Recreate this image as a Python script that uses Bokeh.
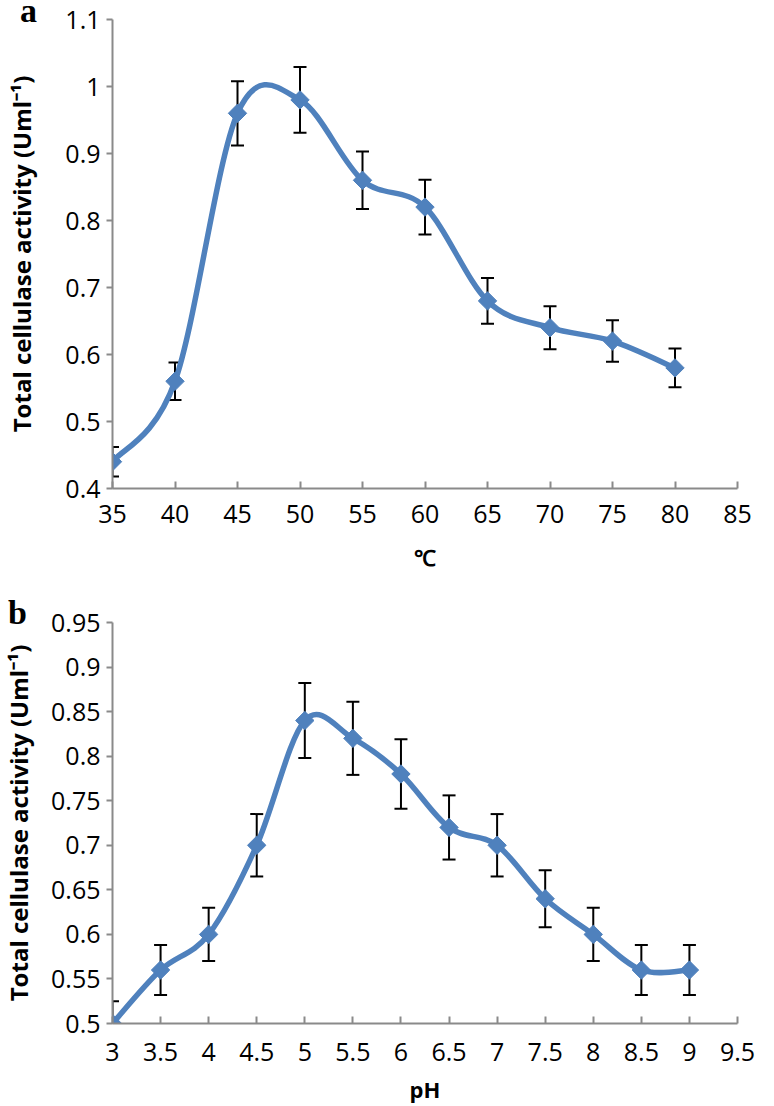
import numpy as np
from bokeh.plotting import figure
from bokeh.layouts import column
from bokeh.models import (ColumnDataSource, Range1d, FixedTicker, Whisker, TeeHead, Div)
from bokeh.embed import file_html
from bokeh.resources import INLINE

# ---------------- data ----------------
temp_c = [35, 40, 45, 50, 55, 60, 65, 70, 75, 80]
temp_activity = [0.44, 0.56, 0.96, 0.98, 0.86, 0.82, 0.68, 0.64, 0.62, 0.58]
temp_err = [0.022, 0.028, 0.048, 0.049, 0.043, 0.041, 0.034, 0.032, 0.031, 0.029]

ph = [3, 3.5, 4, 4.5, 5, 5.5, 6, 6.5, 7, 7.5, 8, 8.5, 9]
ph_activity = [0.50, 0.56, 0.60, 0.70, 0.84, 0.82, 0.78, 0.72, 0.70, 0.64, 0.60, 0.56, 0.56]
ph_err = [0.025, 0.028, 0.030, 0.035, 0.042, 0.041, 0.039, 0.036, 0.035, 0.032, 0.030, 0.028, 0.028]

a_xticks = [35, 40, 45, 50, 55, 60, 65, 70, 75, 80, 85]
a_yticks = [0.4, 0.5, 0.6, 0.7, 0.8, 0.9, 1.0, 1.1]
a_ylabels = ["0.4", "0.5", "0.6", "0.7", "0.8", "0.9", "1", "1.1"]

b_xticks = [3, 3.5, 4, 4.5, 5, 5.5, 6, 6.5, 7, 7.5, 8, 8.5, 9, 9.5]
b_xlabels = ["3", "3.5", "4", "4.5", "5", "5.5", "6", "6.5", "7", "7.5", "8", "8.5", "9", "9.5"]
b_yticks = [0.5, 0.55, 0.6, 0.65, 0.7, 0.75, 0.8, 0.85, 0.9, 0.95]
b_ylabels = ["0.5", "0.55", "0.6", "0.65", "0.7", "0.75", "0.8", "0.85", "0.9", "0.95"]

panel_letters = ["a", "b"]
Y_TITLE = "Total cellulase activity (Uml\u207b\u00b9)"

BLUE = "#4F81BD"
AXIS_GREY = "#8A8A8A"
TICK_FONT = "Open Sans"
SHIFT = 9  # figures are shifted left by this many pixels (negative margin)


def smooth_segments(xs, ys):
    """Catmull-Rom (Excel-like) smoothing -> cubic bezier control points."""
    x = np.asarray(xs, float)
    y = np.asarray(ys, float)
    n = len(x)
    xp = np.concatenate([[x[0]], x, [x[-1]]])
    yp = np.concatenate([[y[0]], y, [y[-1]]])
    d = dict(x0=[], y0=[], x1=[], y1=[], cx0=[], cy0=[], cx1=[], cy1=[])
    for i in range(n - 1):
        j = i + 1
        d["x0"].append(x[i]); d["y0"].append(y[i])
        d["x1"].append(x[i + 1]); d["y1"].append(y[i + 1])
        d["cx0"].append(x[i] + (xp[j + 1] - xp[j - 1]) / 6)
        d["cy0"].append(y[i] + (yp[j + 1] - yp[j - 1]) / 6)
        d["cx1"].append(x[i + 1] - (xp[j + 2] - xp[j]) / 6)
        d["cy1"].append(y[i + 1] - (yp[j + 2] - yp[j]) / 6)
    return d


def make_panel(xs, ys, errs, xr, yr, xticks, xover, yticks, yover, xtitle,
               width, height, bl, br, bt, bb, xlab_standoff, xtitle_standoff, ytitle_standoff):
    p = figure(width=width, height=height, output_backend="svg", toolbar_location=None,
               x_range=Range1d(*xr), y_range=Range1d(*yr),
               min_border_left=bl, min_border_right=br, min_border_top=bt, min_border_bottom=bb)
    p.outline_line_color = None
    p.grid.visible = False
    p.background_fill_color = None
    p.border_fill_color = None

    src = ColumnDataSource(dict(x=xs, y=ys,
                                upper=[v + e for v, e in zip(ys, errs)],
                                lower=[v - e for v, e in zip(ys, errs)]))
    w = Whisker(base="x", upper="upper", lower="lower", source=src,
                line_color="black", line_width=2, level="underlay",
                upper_head=TeeHead(size=13, line_color="black", line_width=2),
                lower_head=TeeHead(size=13, line_color="black", line_width=2))
    p.add_layout(w)

    seg = ColumnDataSource(smooth_segments(xs, ys))
    p.bezier(x0="x0", y0="y0", x1="x1", y1="y1", cx0="cx0", cy0="cy0", cx1="cx1", cy1="cy1",
             source=seg, line_color=BLUE, line_width=5.5, line_cap="round")
    p.scatter("x", "y", source=src, marker="square", angle=np.pi / 4, size=13,
              fill_color=BLUE, line_color=BLUE)

    for ax in (p.xaxis[0], p.yaxis[0]):
        ax.axis_line_color = AXIS_GREY
        ax.axis_line_width = 2
        ax.major_tick_line_color = AXIS_GREY
        ax.major_tick_line_width = 2
        ax.minor_tick_line_color = None
        ax.major_label_text_font = TICK_FONT
        ax.major_label_text_font_size = "25px"
        ax.major_label_text_color = "black"
        ax.axis_label_text_font = "Open Sans"
        ax.axis_label_text_font_style = "bold"
        ax.axis_label_text_color = "black"

    xa = p.xaxis[0]
    xa.ticker = FixedTicker(ticks=xticks)
    xa.major_label_overrides = xover
    xa.major_tick_in = 7
    xa.major_tick_out = 0
    xa.major_label_standoff = xlab_standoff
    xa.axis_label = xtitle
    xa.axis_label_text_font_size = "22px"
    xa.axis_label_standoff = xtitle_standoff

    ya = p.yaxis[0]
    ya.ticker = FixedTicker(ticks=yticks)
    ya.major_label_overrides = yover
    ya.major_tick_in = 0
    ya.major_tick_out = 6
    ya.major_label_standoff = 6
    ya.axis_label = Y_TITLE
    ya.axis_label_text_font_size = "24px"
    ya.axis_label_standoff = ytitle_standoff
    return p


W = 774 + SHIFT
pa = make_panel(temp_c, temp_activity, temp_err, (35, 85), (0.4, 1.1),
                a_xticks, {}, a_yticks, dict(zip(a_yticks, a_ylabels)), "\u2103",
                W, 580, 112 + SHIFT, 37, 19, 92, 16, 16, 24)

pb = make_panel(ph, ph_activity, ph_err, (3, 9.5), (0.5, 0.95),
                b_xticks, dict(zip(b_xticks, b_xlabels)), b_yticks, dict(zip(b_yticks, b_ylabels)), "pH",
                W, 526, 112 + SHIFT, 19, 42, 83, 19, 10, 13)

FONT_CSS = ("font-family:'Liberation Serif','Times New Roman',serif;font-weight:bold;"
            "font-size:34px;line-height:22px;color:black;white-space:nowrap;")
# (left, top) of each letter box in the column's coordinates
letter_pos = [(20 + SHIFT, 0), (8 + SHIFT, 602)]
html = "".join(
    f'<div style="position:absolute;left:{lx}px;top:{ty}px;{FONT_CSS}">{t}</div>'
    for t, (lx, ty) in zip(panel_letters, letter_pos))
letters = Div(text=html, width=0, height=0, margin=(0, 0, 0, 0),
              styles={"overflow": "visible", "position": "relative",
                      "margin": "0px", "padding": "0px", "height": "0px"})

layout = column(letters, pa, pb, spacing=0, margin=(0, 0, 0, -SHIFT),
                styles={"background-color": "white"})
open("out.html", "w").write(file_html(layout, INLINE))
